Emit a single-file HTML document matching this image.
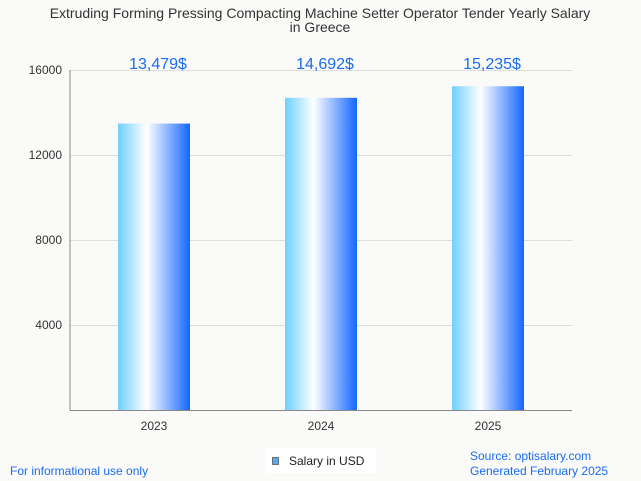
<!DOCTYPE html>
<html><head><meta charset="utf-8"><style>
body{margin:0;background:#fafaf8;font-family:"Liberation Sans",sans-serif;}
svg{display:block}
</style></head><body>
<svg width="641" height="481">
<defs><linearGradient id="g" x1="0" x2="1" y1="0" y2="0">
<stop offset="0" stop-color="#6fd0ff"/><stop offset="0.4" stop-color="#ffffff"/><stop offset="1" stop-color="#1466ff"/>
</linearGradient></defs>
<rect width="641" height="481" fill="#fafaf8"/>
<text x="320" y="18" text-anchor="middle" font-size="14" fill="#333">Extruding Forming Pressing Compacting Machine Setter Operator Tender Yearly Salary</text>
<text x="320" y="32" text-anchor="middle" font-size="14" fill="#333">in Greece</text>
<g id="grid"></g><g id="bars"></g>
<line x1="70" y1="70" x2="70" y2="410.5" stroke="#888"/>
<line x1="70" y1="410.5" x2="572" y2="410.5" stroke="#888"/>
<g>
<rect x="266" y="448" width="110" height="25" fill="#fff"/>
<rect x="272.5" y="457.5" width="6" height="7" fill="#5aa9f0" stroke="#555" stroke-width="0.8"/>
<text x="289" y="465" font-size="12" fill="#222">Salary in USD</text></g>
<text x="10" y="475" font-size="12" fill="#1a6cf0">For informational use only</text>
<text x="470" y="460" font-size="12" fill="#1a6cf0">Source: optisalary.com</text>
<text x="470" y="475" font-size="12" fill="#1a6cf0">Generated February 2025</text>
</svg>
<script>
const categories=["2023","2024","2025"];
const values=[13479,14692,15235];
const labels=["13,479$","14,692$","15,235$"];
const ticks=[4000,8000,12000,16000];
const NS="http://www.w3.org/2000/svg";
const y=v=>410-v/4000*85;
const x=i=>154+i*167;
const grid=document.getElementById('grid'),bars=document.getElementById('bars');
function mk(tag,a,p){const e=document.createElementNS(NS,tag);for(const k in a)e.setAttribute(k,a[k]);p.appendChild(e);return e;}
ticks.forEach(t=>{
 const l=mk('line',{x1:70,x2:572,y1:y(t)+0.5,y2:y(t)+0.5,stroke:'#ddd'},grid);
 
 
 const tx=mk('text',{x:62,y:y(t)+4,'text-anchor':'end','font-size':12,fill:'#333'},grid);
 tx.textContent=t;
 
 
});
categories.forEach((c,i)=>{
 const r=mk('rect',{x:x(i)-36,y:y(values[i]),width:72,height:410-y(values[i]),fill:'url(#g)'},bars);
 
 
 const v=mk('text',{x:x(i)+4,y:69,'text-anchor':'middle','font-size':16,fill:'#1a6cf0'},bars);
 v.textContent=labels[i];
 
 
 const t=mk('text',{x:x(i),y:430,'text-anchor':'middle','font-size':12,fill:'#333'},bars);
 t.textContent=c;
 
 
});
</script>
</body></html>
